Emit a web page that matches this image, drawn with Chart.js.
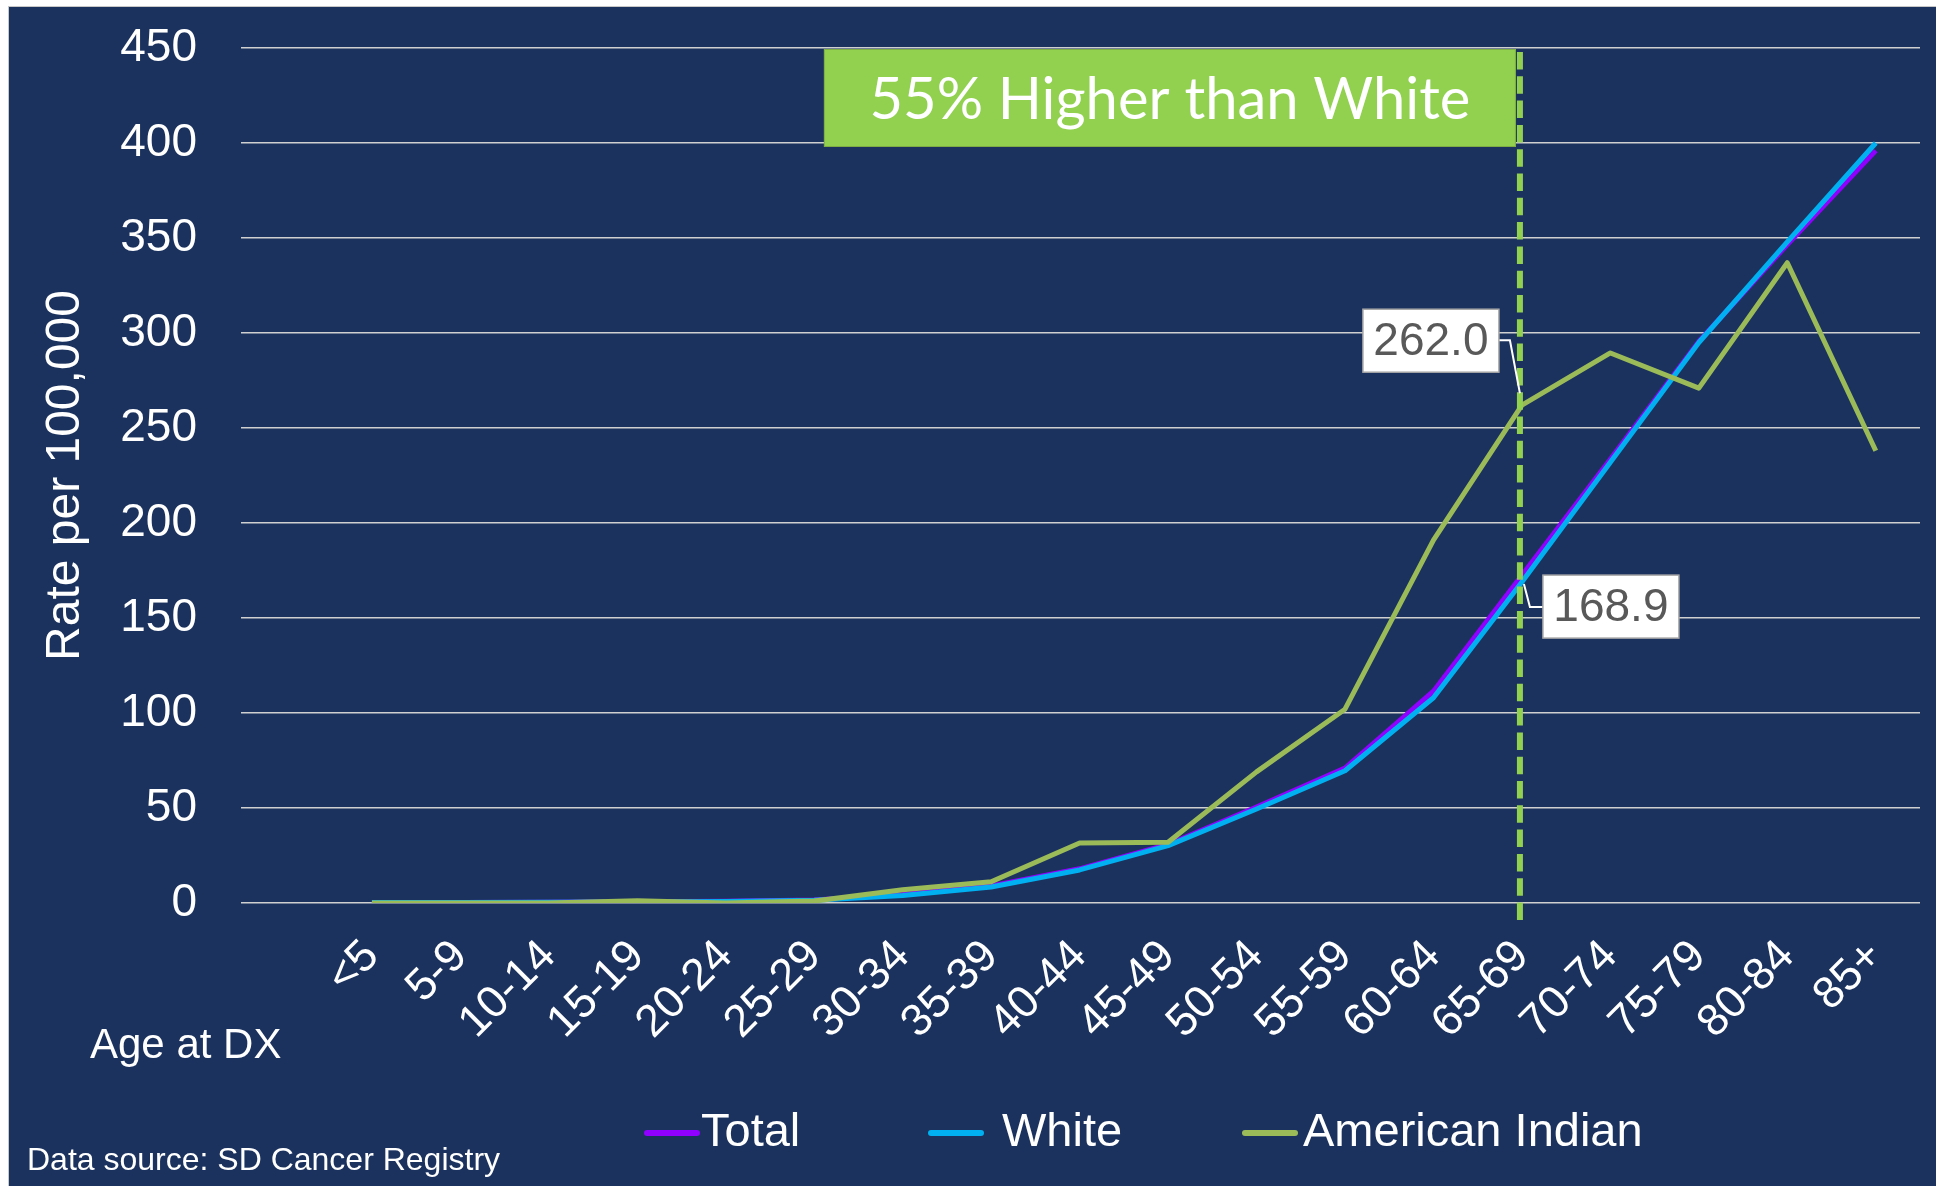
<!DOCTYPE html>
<html><head><meta charset="utf-8">
<script src="https://cdn.jsdelivr.net/npm/chart.js@4"></script>
<style>html,body{margin:0;padding:0;background:#fff;overflow:hidden}#wrap{position:absolute;left:0;top:0;width:1936px;height:1186px}</style>
</head><body><div id="wrap"><canvas id="c" width="1936" height="1186"></canvas></div>
<script>
const ageGroups = ['<5','5-9','10-14','15-19','20-24','25-29','30-34','35-39','40-44','45-49','50-54','55-59','60-64','65-69','70-74','75-79','80-84','85+'];
const totalRates = [0.2, 0.2, 0.4, 0.6, 0.9, 1.6, 4.5, 9.0, 18.0, 30.8, 50.5, 71.0, 111.5, 172.5, 233.5, 295.5, 346.5, 396.0];
const whiteRates = [0.2, 0.2, 0.4, 0.5, 0.8, 1.4, 4.0, 8.4, 17.4, 30.2, 49.5, 69.6, 108.0, 168.9, 232.0, 295.0, 348.0, 400.0];
const aiRates    = [0.0, 0.0, 0.0, 1.2, 0.0, 1.0, 7.0, 11.2, 31.6, 32.0, 69.0, 102.0, 191.0, 262.0, 289.5, 271.0, 337.0, 238.0];
const seriesNames = ['Total', 'White', 'American Indian'];
const seriesColors = ['#9000FF', '#00B0F0', '#9BBB59'];
const yMin = 0, yMax = 450, yStep = 50;
const highlightIndex = 13;
const calloutText = '55% Higher than White';
const labelAI = '262.0';
const labelWhite = '168.9';
const xTitle = 'Age at DX';
const yTitle = 'Rate per 100,000';
const sourceText = 'Data source: SD Cancer Registry';

const FONT = "'Liberation Sans', Arial, sans-serif";
const NAVY = '#1b325e';

function pts(arr){ return arr.map((v,i)=>({x:i, y:v})); }

const bgPlugin = {
  id:'bg',
  beforeDraw(chart){
    const ctx = chart.ctx;
    ctx.save();
    ctx.fillStyle = '#ffffff';
    ctx.fillRect(0,0,chart.width,chart.height);
    ctx.fillStyle = NAVY;
    ctx.fillRect(9,7,chart.width-9,chart.height-7);
    ctx.strokeStyle = '#c8c8c8';
    ctx.lineWidth = 1;
    ctx.strokeRect(8.5,6.5,chart.width,chart.height);
    ctx.restore();
  }
};

function valueBox(ctx, text, cx, cy){
  const w = 136, h = 63;
  ctx.fillStyle = '#ffffff';
  ctx.fillRect(cx-w/2, cy-h/2, w, h);
  ctx.strokeStyle = '#a6a6a6';
  ctx.lineWidth = 1.5;
  ctx.strokeRect(cx-w/2, cy-h/2, w, h);
  ctx.fillStyle = '#595959';
  ctx.font = '46px ' + FONT;
  ctx.textAlign = 'center';
  ctx.textBaseline = 'middle';
  ctx.fillText(text, cx, cy+2);
}

const overlayPlugin = {
  id:'overlay',
  afterDatasetsDraw(chart){
    const ctx = chart.ctx;
    const xs = chart.scales.x, ys = chart.scales.y;
    const xp = xs.getPixelForValue(highlightIndex);
    ctx.save();
    // dashed marker line
    ctx.strokeStyle = '#92D050';
    ctx.lineWidth = 6;
    ctx.setLineDash([17.5, 6.8]);
    ctx.beginPath();
    ctx.moveTo(xp-2, chart.chartArea.bottom + 17);
    ctx.lineTo(xp-2, ys.getPixelForValue(yMax) + 2);
    ctx.stroke();
    ctx.setLineDash([]);
    // callout box
    const right = xp - 6, left = right - 692;
    const top = ys.getPixelForValue(yMax) + 1, bottom = ys.getPixelForValue(400) + 4;
    ctx.fillStyle = '#92D050';
    ctx.fillRect(left, top, right-left, bottom-top);
    ctx.strokeStyle = '#7fae45';
    ctx.lineWidth = 1;
    ctx.strokeRect(left+0.5, top+0.5, right-left-1, bottom-top-1);
    let size = 56;
    ctx.font = size + "px Lato, 'Open Sans', sans-serif";
    const w0 = ctx.measureText(calloutText).width;
    size = size * 601 / w0;
    ctx.font = size.toFixed(1) + "px Lato, 'Open Sans', sans-serif";
    ctx.fillStyle = '#ffffff';
    ctx.textAlign = 'center';
    ctx.textBaseline = 'middle';
    ctx.fillText(calloutText, (left+right)/2, (top+bottom)/2 + 2);
    // value labels with leader lines
    const pA = {x: xp, y: ys.getPixelForValue(aiRates[highlightIndex])};
    const pW = {x: xp, y: ys.getPixelForValue(whiteRates[highlightIndex])};
    ctx.strokeStyle = '#ffffff';
    ctx.lineWidth = 2;
    ctx.beginPath();
    ctx.moveTo(pA.x-23, pA.y-65); ctx.lineTo(pA.x-12, pA.y-65); ctx.lineTo(pA.x-2, pA.y-12);
    ctx.stroke();
    ctx.beginPath();
    ctx.moveTo(pW.x+2, pW.y+2); ctx.lineTo(pW.x+8, pW.y+25); ctx.lineTo(pW.x+21, pW.y+25);
    ctx.stroke();
    valueBox(ctx, labelAI, pA.x-91, pA.y-64.5);
    valueBox(ctx, labelWhite, pW.x+89, pW.y+24.5);
    ctx.restore();
  },
  afterDraw(chart){
    const ctx = chart.ctx;
    ctx.save();
    // legend
    const swX = [644, 928, 1242], txX = [701, 1002, 1303];
    const ly = 1133;
    chart.data.datasets.forEach((ds, i) => {
      ctx.strokeStyle = ds.borderColor;
      ctx.lineWidth = 6;
      ctx.lineCap = 'round';
      ctx.beginPath();
      ctx.moveTo(swX[i]+3, ly); ctx.lineTo(swX[i]+53, ly);
      ctx.stroke();
      ctx.fillStyle = '#ffffff';
      ctx.font = '47px ' + FONT;
      ctx.textAlign = 'left';
      ctx.textBaseline = 'middle';
      ctx.fillText(ds.label, txX[i], ly);
    });
    ctx.font = '42px ' + FONT;
    ctx.fillText(xTitle, 90, 1046);
    ctx.font = '32px ' + FONT;
    ctx.fillText(sourceText, 27, 1161);
    ctx.restore();
  }
};

new Chart(document.getElementById('c'), {
  type: 'line',
  data: {
    datasets: [
      {label: seriesNames[0], data: pts(totalRates), borderColor: seriesColors[0], backgroundColor: seriesColors[0], borderWidth: 5, pointRadius: 0, tension: 0, order: 3, borderJoinStyle: 'round'},
      {label: seriesNames[1], data: pts(whiteRates), borderColor: seriesColors[1], backgroundColor: seriesColors[1], borderWidth: 5, pointRadius: 0, tension: 0, order: 2, borderJoinStyle: 'round'},
      {label: seriesNames[2], data: pts(aiRates), borderColor: seriesColors[2], backgroundColor: seriesColors[2], borderWidth: 5, pointRadius: 0, tension: 0, order: 1, borderJoinStyle: 'round'}
    ]
  },
  options: {
    responsive: false,
    animation: false,
    devicePixelRatio: 1,
    layout: {padding: {left: 0, top: 48, right: 16, bottom: 0}},
    plugins: {legend: {display: false}, tooltip: {enabled: false}},
    scales: {
      x: {
        type: 'linear', min: -1.48, max: 17.5,
        afterBuildTicks(s){ s.ticks = ageGroups.map((_, i) => ({value: i})); },
        ticks: {autoSkip: false, minRotation: 45, maxRotation: 45, color: '#ffffff', font: {family: FONT, size: 45}, padding: 27,
          callback: (v) => ageGroups[v]},
        grid: {display: false, drawTicks: false},
        border: {display: false},
        afterFit(s){ s.height = 1186 - 903; s.paddingLeft = 0; s.paddingRight = 0; }
      },
      y: {
        min: yMin, max: yMax,
        ticks: {stepSize: yStep, color: '#ffffff', font: {family: FONT, size: 46}, padding: 44},
        grid: {color: '#d0d0d0', lineWidth: 1.5, drawTicks: false},
        border: {display: false},
        title: {display: true, text: yTitle, color: '#ffffff', font: {family: FONT, size: 48}, padding: {top: 37, bottom: 0}},
        afterFit(s){ s.width = 241; s.paddingTop = 0; s.paddingBottom = 0; }
      }
    }
  },
  plugins: [bgPlugin, overlayPlugin]
});
</script></body></html>
